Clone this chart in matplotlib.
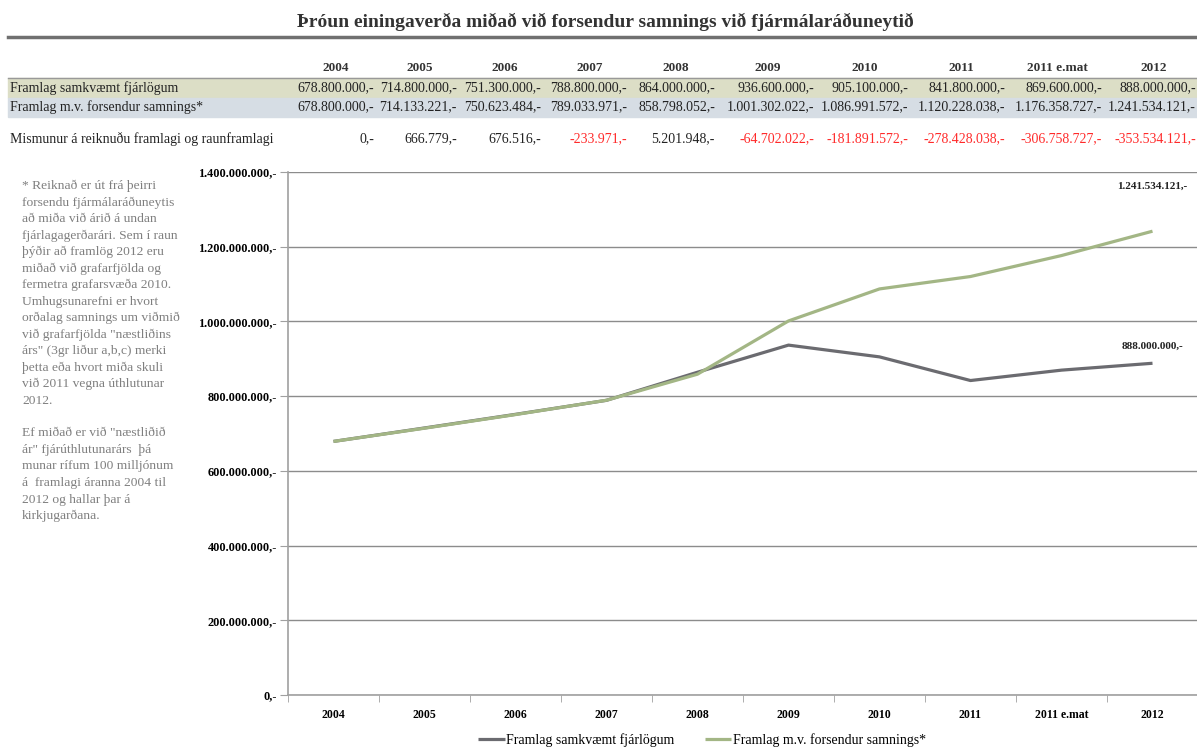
import matplotlib
matplotlib.use("Agg")
import matplotlib.pyplot as plt
from matplotlib.lines import Line2D

plt.rcParams['font.family'] = ['Liberation Serif', 'DejaVu Serif']

# -------- Data --------
years = ["2004", "2005", "2006", "2007", "2008", "2009", "2010", "2011", "2011 e.mat", "2012"]
fjarlog = [678800000, 714800000, 751300000, 788800000, 864000000,
           936600000, 905100000, 841800000, 869600000, 888000000]
samningur = [678800000, 714133221, 750623484, 789033971, 858798052,
             1001302022, 1086991572, 1120228038, 1176358727, 1241534121]
mismunur = [0, 666779, 676516, -233971, 5201948,
            -64702022, -181891572, -278428038, -306758727, -353534121]

row_labels = ["Framlag samkvæmt fjárlögum",
              "Framlag m.v. forsendur samnings*",
              "Mismunur á reiknuðu framlagi og raunframlagi"]
series_labels = ["Framlag samkvæmt fjárlögum", "Framlag m.v. forsendur samnings*"]
title = "Þróun einingaverða miðað við forsendur samnings við fjármálaráðuneytið"

note_lines = [
    "* Reiknað er út frá þeirri",
    "forsendu fjármálaráðuneytis",
    "að miða við árið á undan",
    "fjárlagagerðarári. Sem í raun",
    "þýðir að framlög 2012 eru",
    "miðað við grafarfjölda og",
    "fermetra grafarsvæða 2010.",
    "Umhugsunarefni er hvort",
    "orðalag samnings um viðmið",
    "við grafarfjölda \"næstliðins",
    "árs\" (3gr liður a,b,c) merki",
    "þetta eða hvort miða skuli",
    "við 2011 vegna úthlutunar",
    "2012.",
    "",
    "Ef miðað er við \"næstliðið",
    "ár\" fjárúthlutunarárs  þá",
    "munar rífum 100 milljónum",
    "á  framlagi áranna 2004 til",
    "2012 og hallar þar á",
    "kirkjugarðana.",
]

GRAY = "#6b6b70"
GREEN = "#a3b685"

W, H = 1197, 747


def fmt(v):
    s = f"{abs(v):,}".replace(",", ".")
    return ("-" if v < 0 else "") + s + ",-"


def fx(x):
    return x / W


def fy(y):
    return 1 - y / H


fig = plt.figure(figsize=(W / 100, H / 100), dpi=100)

# -------- Title and rule --------
fig.text(fx(605), fy(22), title, ha="center", va="center", fontsize=14,
         fontweight="bold", color="#333333")
fig.add_artist(Line2D([fx(8), fx(1197)], [fy(37), fy(37)], color="#707070", lw=2.5))

# -------- Table --------
col_center = [336, 420, 505, 590, 676, 768, 865, 961, 1057, 1154]
col_right = [374, 457, 541, 627, 715, 814, 908, 1005, 1102, 1196]

for c, y in zip(col_center, years):
    fig.text(fx(c), fy(68), y, ha="center", va="center", fontsize=9.5,
             fontweight="bold", color="#333333")

fig.add_artist(plt.Rectangle((fx(8), fy(98)), fx(1189), 20 / H, color="#dcdec6",
                             transform=fig.transFigure, zorder=0))
fig.add_artist(plt.Rectangle((fx(8), fy(117)), fx(1189), 19 / H, color="#d6dde4",
                             transform=fig.transFigure, zorder=0))
fig.add_artist(Line2D([fx(8), fx(1197)], [fy(78), fy(78)], color="#999999", lw=1))

rows = [(fjarlog, 88), (samningur, 107), (mismunur, 139)]
for (label, (vals, y)) in zip(row_labels, rows):
    fig.text(fx(10), fy(y), label, ha="left", va="center", fontsize=10, color="#222222")
    for r, v in zip(col_right, vals):
        color = "#ff2a2a" if (vals is mismunur and v < 0) else "#222222"
        fig.text(fx(r), fy(y), fmt(v), ha="right", va="center", fontsize=10, color=color)

# -------- Note --------
for i, line in enumerate(note_lines):
    fig.text(fx(22), fy(186 + i * 16.5), line, ha="left", va="center",
             fontsize=9.7, color="#7f7f7f")

# -------- Chart --------
ax = fig.add_axes([fx(288), fy(695), (1198 - 288) / W, (695 - 172) / H])
x = list(range(len(years)))
ax.plot(x, fjarlog, color=GRAY, lw=2.3, label=series_labels[0], solid_capstyle="butt")
ax.plot(x, samningur, color=GREEN, lw=2.3, label=series_labels[1], solid_capstyle="butt")

ax.set_xlim(-0.5, len(years) - 0.5)
ax.set_ylim(0, 1.4e9)
yt = [i * 200000000 for i in range(8)]
ax.set_yticks(yt)
ax.set_yticklabels([fmt(v) for v in yt], fontsize=8.8, fontweight="bold")
ax.set_xticks(x)
ax.set_xticklabels(years, fontsize=8.5, fontweight="bold")
ax.set_xticks([i - 0.5 for i in range(len(years) + 1)], minor=True)
ax.tick_params(axis="x", which="major", length=0, pad=10)
ax.tick_params(axis="x", which="minor", length=5, color="#a0a0a0", direction="out")
ax.tick_params(axis="y", length=6, color="#a0a0a0", direction="out", pad=2)
ax.grid(axis="y", color="#8c8c8c", lw=1)
ax.set_axisbelow(True)
for s in ["top", "right"]:
    ax.spines[s].set_visible(False)
for s in ["left", "bottom"]:
    ax.spines[s].set_color("#a0a0a0")
    ax.spines[s].set_linewidth(1.2)

ax.annotate(fmt(samningur[-1]), (x[-1], samningur[-1]), xytext=(0, 32),
            textcoords="offset points", ha="center", va="center",
            fontsize=8, fontweight="bold", color="#222222")
ax.annotate(fmt(fjarlog[-1]), (x[-1], fjarlog[-1]), xytext=(0, 12),
            textcoords="offset points", ha="center", va="center",
            fontsize=8, fontweight="bold", color="#222222")

fig.legend(loc="center", bbox_to_anchor=(fx(702), fy(740)), ncol=2, frameon=False,
           fontsize=10, handlelength=1.9, handletextpad=0.1, columnspacing=2.2)

fig.savefig("out.png", dpi=100)
